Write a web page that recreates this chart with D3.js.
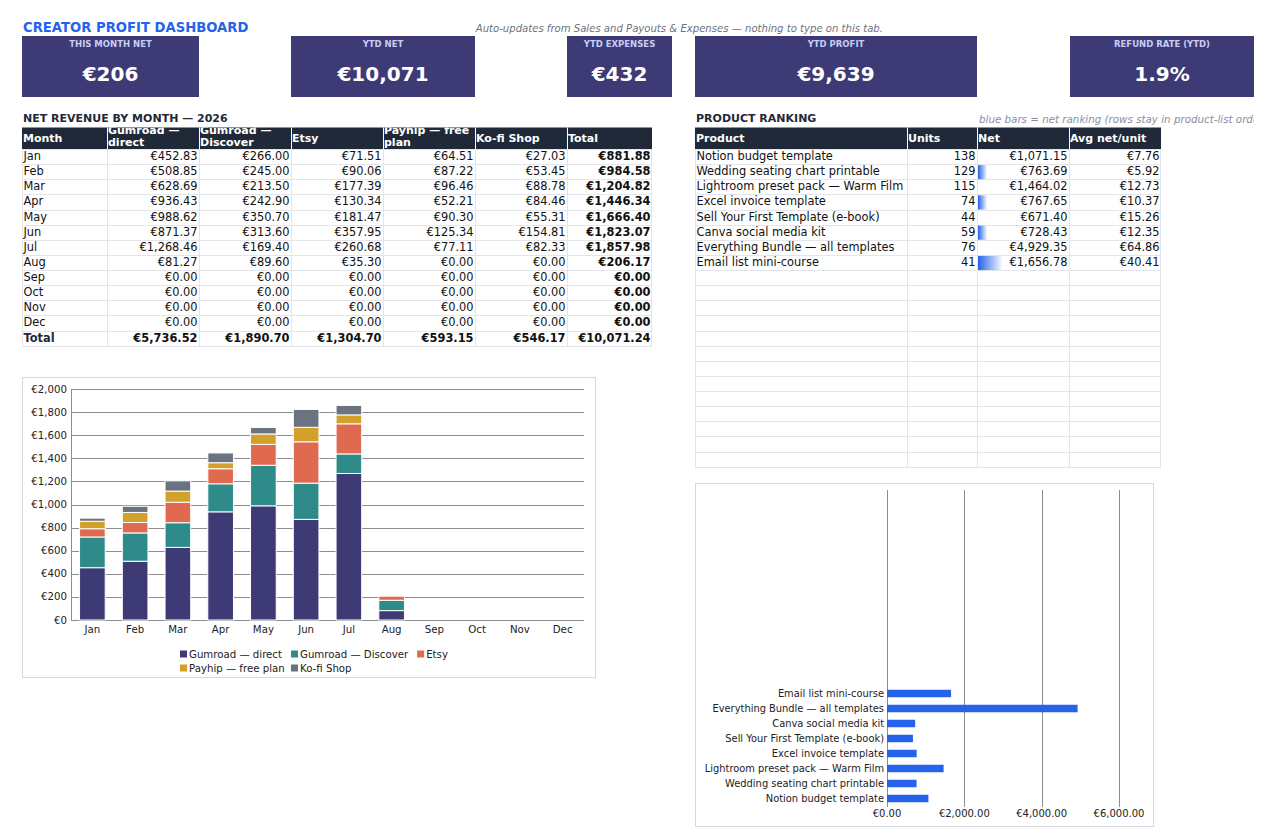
<!DOCTYPE html>
<html>
<head>
<meta charset="utf-8">
<script src="https://cdn.jsdelivr.net/npm/d3@7"></script>
<style>
  body { margin: 0; background: #fff; }
  svg { font-family: "DejaVu Sans", sans-serif; display: block; }
</style>
</head>
<body>
<svg id="dash" width="1276" height="840"></svg>
<script>
// ---- data ----
var kpiLabels = ["THIS MONTH NET", "YTD NET", "YTD EXPENSES", "YTD PROFIT", "REFUND RATE (YTD)"];
var kpiValues = ["€206", "€10,071", "€432", "€9,639", "1.9%"];

var months = ["Jan", "Feb", "Mar", "Apr", "May", "Jun", "Jul", "Aug", "Sep", "Oct", "Nov", "Dec"];
var channels = ["Gumroad — direct", "Gumroad — Discover", "Etsy", "Payhip — free plan", "Ko-fi Shop"];
var gumroadDirect   = [452.83, 508.85, 628.69, 936.43, 988.62, 871.37, 1268.46, 81.27, 0, 0, 0, 0];
var gumroadDiscover = [266.00, 245.00, 213.50, 242.90, 350.70, 313.60, 169.40, 89.60, 0, 0, 0, 0];
var etsy            = [71.51, 90.06, 177.39, 130.34, 181.47, 357.95, 260.68, 35.30, 0, 0, 0, 0];
var payhip          = [64.51, 87.22, 96.46, 52.21, 90.30, 125.34, 77.11, 0, 0, 0, 0, 0];
var kofi            = [27.03, 53.45, 88.78, 84.46, 55.31, 154.81, 82.33, 0, 0, 0, 0, 0];
var yTicks = [0, 200, 400, 600, 800, 1000, 1200, 1400, 1600, 1800, 2000];

var products = ["Notion budget template", "Wedding seating chart printable", "Lightroom preset pack — Warm Film",
  "Excel invoice template", "Sell Your First Template (e-book)", "Canva social media kit",
  "Everything Bundle — all templates", "Email list mini-course"];
var units = [138, 129, 115, 74, 44, 59, 76, 41];
var net = [1071.15, 763.69, 1464.02, 767.65, 671.40, 728.43, 4929.35, 1656.78];
var dataBar = [0, 0.1, 0, 0.1, 0, 0.1, 0, 0.27];   // share of the Net cell filled by the sheet's data bar
var emptyRankRows = 13;
var netTicks = [0, 2000, 4000, 6000];

var colors = ["#3d3a75", "#2e8b8a", "#e06a4f", "#d1a12b", "#6b7280"];

// ---- helpers ----
var svg = d3.select("#dash");
var eur = function (v) { return "€" + d3.format(",.2f")(v); };
var series = [gumroadDirect, gumroadDiscover, etsy, payhip, kofi];
var dark = "#1f2937", grid = "#e3e5ea", ink = "#111";

var defs = svg.append("defs");
var grad = defs.append("linearGradient").attr("id", "dbar");
grad.append("stop").attr("offset", "0%").attr("stop-color", "#2563eb");
grad.append("stop").attr("offset", "100%").attr("stop-color", "#ffffff");

// ---- heading ----
svg.append("text").attr("x", 23).attr("y", 32).attr("font-size", 13.2).attr("font-weight", "bold")
  .attr("fill", "#2563eb").text("CREATOR PROFIT DASHBOARD");
svg.append("text").attr("x", 883).attr("y", 32).attr("text-anchor", "end").attr("font-size", 10.1)
  .attr("font-style", "italic").attr("fill", "#6b7280")
  .text("Auto-updates from Sales and Payouts & Expenses — nothing to type on this tab.");

// ---- KPI cards ----
var cardBox = [[22, 177], [291, 184], [567, 105], [695, 282], [1070, 184]];
var cards = svg.selectAll("g.kpi").data(kpiLabels).enter().append("g").attr("class", "kpi")
  .attr("transform", function (d, i) { return "translate(" + cardBox[i][0] + ",36)"; });
cards.append("rect").attr("width", function (d, i) { return cardBox[i][1]; }).attr("height", 61).attr("fill", "#3d3a75");
cards.append("text").attr("x", function (d, i) { return cardBox[i][1] / 2; }).attr("y", 11)
  .attr("text-anchor", "middle").attr("font-size", 8.5).attr("font-weight", "bold").attr("fill", "#c9cdf5")
  .text(function (d) { return d; });
cards.append("text").attr("x", function (d, i) { return cardBox[i][1] / 2; }).attr("y", 45)
  .attr("text-anchor", "middle").attr("font-size", 20).attr("font-weight", "bold").attr("fill", "#fff")
  .text(function (d, i) { return kpiValues[i]; });

// ---- generic table ----
function drawTable(g, cols, header, rows, opts) {
  var top = 127.5, hh = 21.5, rh = 15.13;
  var x0 = cols[0], x1 = cols[cols.length - 1];
  var nRows = rows.length;
  g.append("rect").attr("x", x0).attr("y", top).attr("width", x1 - x0).attr("height", hh).attr("fill", dark);
  header.forEach(function (h, i) {
    var cid = opts.id + "h" + i;
    defs.append("clipPath").attr("id", cid).append("rect")
      .attr("x", cols[i]).attr("y", top).attr("width", cols[i + 1] - cols[i] - 1).attr("height", hh);
    var lines = h.split("\n");
    var t = g.append("text").attr("clip-path", "url(#" + cid + ")").attr("font-size", 11)
      .attr("font-weight", "bold").attr("fill", "#fff");
    lines.forEach(function (l, k) {
      t.append("tspan").attr("x", cols[i] + 1)
        .attr("y", lines.length > 1 ? top + 6.5 + k * 12 : top + 14.5).text(l);
    });
  });
  // header column separators
  cols.slice(1, -1).forEach(function (c) {
    g.append("line").attr("x1", c + 0.5).attr("x2", c + 0.5).attr("y1", top).attr("y2", top + hh)
      .attr("stroke", "#fff").attr("stroke-width", 1);
  });
  var bodyTop = top + hh;
  var yb = bodyTop + nRows * rh;
  // grid
  d3.range(nRows + 1).forEach(function (r) {
    var y = Math.round(bodyTop + r * rh) + 0.5;
    g.append("line").attr("x1", x0).attr("x2", x1).attr("y1", y).attr("y2", y).attr("stroke", grid);
  });
  cols.forEach(function (c, i) {
    var x = (i === cols.length - 1 ? c - 1 : c) + 0.5;
    g.append("line").attr("x1", x).attr("x2", x).attr("y1", bodyTop).attr("y2", Math.round(yb) + 0.5).attr("stroke", grid);
  });
  rows.forEach(function (row, r) {
    var yc = bodyTop + r * rh;
    if (opts.beforeRow) opts.beforeRow(g, r, yc, rh);
    row.forEach(function (cell, i) {
      if (cell === "") return;
      var left = i === 0;
      g.append("text")
        .attr("x", left ? cols[i] + 1.5 : cols[i + 1] - 1.5)
        .attr("y", yc + 11)
        .attr("text-anchor", left ? "start" : "end")
        .attr("font-size", 11.4)
        .attr("font-weight", opts.bold(r, i) ? "bold" : "normal")
        .attr("fill", opts.bold(r, i) && i === 0 ? dark : ink)
        .text(cell);
    });
  });
}

// ---- revenue table ----
var monthTotals = months.map(function (m, i) { return d3.sum(series, function (s) { return s[i]; }); });
var revRows = months.map(function (m, i) {
  return [m].concat(series.map(function (s) { return eur(s[i]); })).concat([eur(monthTotals[i])]);
});
revRows.push(["Total"].concat(series.map(function (s) { return eur(d3.sum(s)); })).concat([eur(d3.sum(monthTotals))]));

svg.append("text").attr("x", 23).attr("y", 122).attr("font-size", 11).attr("font-weight", "bold")
  .attr("fill", dark).text("NET REVENUE BY MONTH — 2026");
drawTable(svg.append("g"), [22, 107, 199, 291, 383, 475, 567, 652],
  ["Month", "Gumroad —\ndirect", "Gumroad —\nDiscover", "Etsy", "Payhip — free\nplan", "Ko-fi Shop", "Total"],
  revRows, {
    id: "rev",
    bold: function (r, i) { return r === months.length || i === 6; }
  });

// ---- product ranking table ----
svg.append("text").attr("x", 696).attr("y", 122).attr("font-size", 11).attr("font-weight", "bold")
  .attr("fill", dark).text("PRODUCT RANKING");
defs.append("clipPath").attr("id", "noteClip").append("rect").attr("x", 900).attr("y", 100).attr("width", 354).attr("height", 30);
svg.append("text").attr("x", 979).attr("y", 123).attr("font-size", 10.3).attr("font-style", "italic")
  .attr("fill", "#8a8fa0").attr("clip-path", "url(#noteClip)")
  .text("blue bars = net ranking (rows stay in product-list order)");

var prodRows = products.map(function (p, i) {
  return [p, String(units[i]), eur(net[i]), eur(net[i] / units[i])];
});
d3.range(emptyRankRows).forEach(function () { prodRows.push(["", "", "", ""]); });
var rankCols = [695, 907, 977, 1069, 1161];
var barW = d3.scaleLinear().domain([0, 1]).range([0, rankCols[3] - rankCols[2]]);
drawTable(svg.append("g"), rankCols, ["Product", "Units", "Net", "Avg net/unit"], prodRows, {
  id: "rank",
  bold: function () { return false; },
  beforeRow: function (g, r, yc, rh) {
    if (r < dataBar.length && dataBar[r] > 0) {
      g.append("rect").attr("x", rankCols[2] + 1).attr("y", yc + 1).attr("width", barW(dataBar[r]))
        .attr("height", rh - 1).attr("fill", "url(#dbar)");
    }
  }
});

// ---- stacked monthly chart ----
var c1 = svg.append("g");
c1.append("rect").attr("x", 22.5).attr("y", 377.5).attr("width", 573).attr("height", 300)
  .attr("fill", "#fff").attr("stroke", "#d6d8dd");
var x = d3.scaleBand().domain(months).range([71, 584]).paddingInner(0.4).paddingOuter(0.2);
var y = d3.scaleLinear().domain([0, 2000]).range([620, 389]);
c1.append("g").selectAll("line").data(yTicks).enter().append("line")
  .attr("x1", 71).attr("x2", 584).attr("y1", function (d) { return Math.round(y(d)) + 0.5; })
  .attr("y2", function (d) { return Math.round(y(d)) + 0.5; }).attr("stroke", "#8d8d8d");
c1.append("line").attr("x1", 71.5).attr("x2", 71.5).attr("y1", 389).attr("y2", 621).attr("stroke", "#8d8d8d");
c1.append("g").selectAll("text").data(yTicks).enter().append("text")
  .attr("x", 67).attr("y", function (d) { return y(d) + 3.5; }).attr("text-anchor", "end")
  .attr("font-size", 10.2).attr("fill", "#222").text(function (d) { return "€" + d3.format(",")(d); });
c1.append("g").selectAll("text").data(months).enter().append("text")
  .attr("x", function (d) { return x(d) + x.bandwidth() / 2; }).attr("y", 633).attr("text-anchor", "middle")
  .attr("font-size", 10.2).attr("fill", "#222").text(function (d) { return d; });

var tableRows = months.map(function (m, i) {
  var o = { month: m };
  channels.forEach(function (c, k) { o[c] = series[k][i]; });
  return o;
});
var stacked = d3.stack().keys(channels)(tableRows);
c1.append("g").selectAll("g").data(stacked).enter().append("g")
  .attr("fill", function (d, i) { return colors[i]; })
  .selectAll("rect").data(function (d) { return d; }).enter()
  .filter(function (d) { return d[1] - d[0] > 0; })
  .append("rect")
  .attr("x", function (d) { return x(d.data.month); })
  .attr("width", x.bandwidth())
  .attr("y", function (d) { return y(d[1]); })
  .attr("height", function (d) { return y(d[0]) - y(d[1]); })
  .attr("stroke", "#fff").attr("stroke-width", 1);

// legend: two rows, columns shared
var legRows = [[0, 1, 2], [3, 4]];
var measure = c1.append("text").attr("font-size", 10.2);
var colX = [180];
[0, 1].forEach(function (k) {
  measure.text(channels[k]);
  colX.push(colX[k] + 9 + measure.node().getComputedTextLength() + 9);
});
measure.remove();
legRows.forEach(function (row, ri) {
  row.forEach(function (k, ci) {
    var lx = colX[ci], ly = 654 + ri * 14;
    c1.append("rect").attr("x", lx).attr("y", ly - 3.5).attr("width", 7).attr("height", 7).attr("fill", colors[k]);
    c1.append("text").attr("x", lx + 9).attr("y", ly + 3.5).attr("font-size", 10.2).attr("fill", "#222").text(channels[k]);
  });
});

// ---- product net chart ----
var c2 = svg.append("g");
c2.append("rect").attr("x", 695.5).attr("y", 483.5).attr("width", 458).attr("height", 343)
  .attr("fill", "#fff").attr("stroke", "#d6d8dd");
var slots = products.concat(d3.range(emptyRankRows).map(function (i) { return "__empty" + i; }));
var yb = d3.scaleBand().domain(slots).range([806, 491]).paddingInner(0.5).paddingOuter(0.25);
var xb = d3.scaleLinear().domain([0, 6000]).range([887, 1119]);
c2.append("g").selectAll("line").data(netTicks).enter().append("line")
  .attr("x1", function (d) { return Math.round(xb(d)) + 0.5; }).attr("x2", function (d) { return Math.round(xb(d)) + 0.5; })
  .attr("y1", 490).attr("y2", 807).attr("stroke", "#8d8d8d");
c2.append("g").selectAll("text").data(netTicks).enter().append("text")
  .attr("x", function (d) { return xb(d); }).attr("y", 817).attr("text-anchor", "middle")
  .attr("font-size", 10).attr("fill", "#222").text(function (d) { return eur(d); });
c2.append("g").selectAll("rect").data(products).enter().append("rect")
  .attr("x", xb(0)).attr("y", function (d) { return yb(d); })
  .attr("width", function (d, i) { return xb(net[i]) - xb(0); })
  .attr("height", yb.bandwidth()).attr("fill", "#2563eb");
c2.append("g").selectAll("text").data(products).enter().append("text")
  .attr("x", 884).attr("y", function (d) { return yb(d) + yb.bandwidth() / 2 + 3.5; })
  .attr("text-anchor", "end").attr("font-size", 9.9).attr("fill", "#222").text(function (d) { return d; });
</script>
</body>
</html>
